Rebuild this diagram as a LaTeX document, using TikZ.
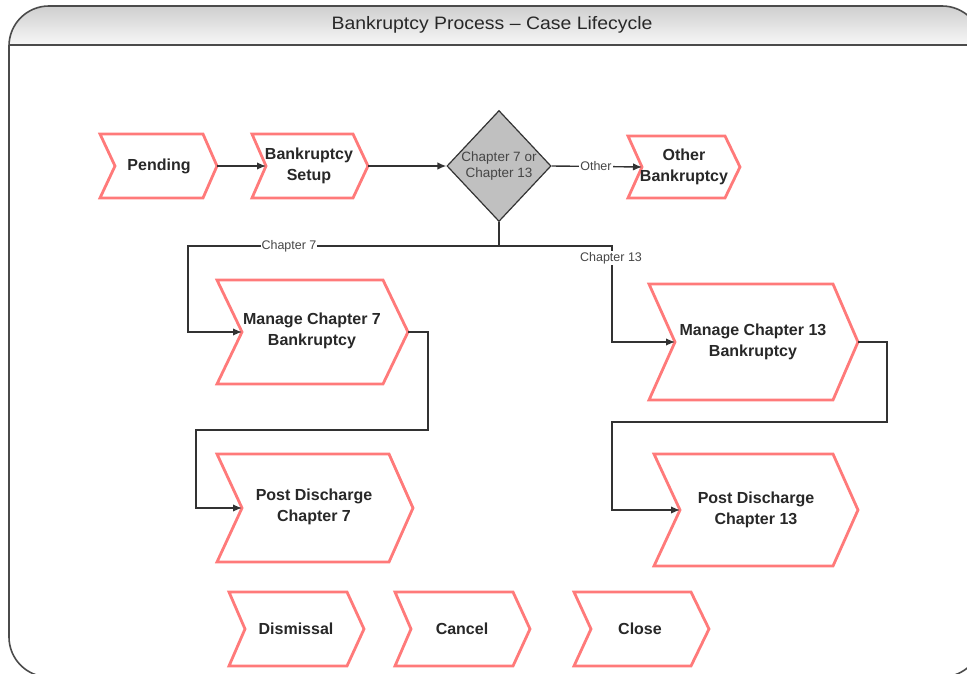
\documentclass[tikz,border=0pt]{standalone}
\usepackage{fontspec}
\setmainfont{Liberation Sans}
\usetikzlibrary{arrows.meta,shapes.geometric}
\definecolor{chevred}{RGB}{255,122,122}
\definecolor{linegray}{RGB}{50,50,50}
\definecolor{txtc}{RGB}{40,40,40}
\definecolor{smalltxt}{RGB}{70,70,70}
\definecolor{decgray}{RGB}{192,192,192}
\definecolor{framegray}{RGB}{75,75,75}
\newcommand\chevbox[7]{% name, xleft, xnotch, xright, xtip, ytop, ybottom
  \pgfmathsetmacro\ymid{(#6+#7)/2}
  \draw[chev] (#2,#6) -- (#4,#6) -- (#5,\ymid) -- (#4,#7) -- (#2,#7) -- (#3,\ymid) -- cycle;
  \coordinate (#1-in) at (#3,\ymid);
  \coordinate (#1-out) at (#5,\ymid);
}
\tikzset{
  chev/.style={draw=chevred, line width=2.8pt, fill=white, line join=miter},
  lbl/.style={text=txtc, font=\fontsize{16}{21}\selectfont\bfseries, align=center, inner sep=0pt},
  small/.style={text=smalltxt, font=\fontsize{12.5}{16}\selectfont, align=center, inner sep=1pt},
  smallw/.style={small, fill=white},
  conn/.style={draw=linegray, line width=1.4pt},
  arr/.style={conn, -{Latex[length=9pt,width=7.5pt]}},
  decision/.style={shape=diamond, draw=linegray, line width=1.2pt, fill=decgray,
    minimum width=102pt, minimum height=111pt, inner sep=0pt, text=smalltxt,
    font=\fontsize{13.5}{16.5}\selectfont, align=center},
}
\begin{document}
\begin{tikzpicture}[x=1pt,y=-1pt]
\useasboundingbox (0,0) rectangle (967,674);
% frame
\begin{scope}
  \clip[rounded corners=40pt] (9,6) rectangle (982,677);
  \shade[top color=gray!38, bottom color=gray!6] (9,6) rectangle (982,45);
\end{scope}
\draw[draw=framegray, line width=1.6pt] (9,45) -- (982,45);
\draw[draw=framegray, line width=1.6pt, rounded corners=40pt] (9,6) rectangle (982,677);
\node[text=txtc, font=\fontsize{18}{20}\selectfont, inner sep=0pt] (title) at (492,25) {\scalebox{1.08}[1]{Bankruptcy Process – Case Lifecycle}};

% chevrons
\chevbox{pending}{100}{115}{203}{217}{134}{198}
\chevbox{setup}{252}{266}{353}{368}{134}{198}
\chevbox{other}{628}{642}{725}{740}{136}{198}
\chevbox{mseven}{217}{242}{383}{408}{280}{384}
\chevbox{mthirteen}{649}{675}{833}{858}{284}{400}
\chevbox{pseven}{217}{242}{389}{413}{454}{562}
\chevbox{pthirteen}{654}{680}{833}{858}{454}{566}
\chevbox{dis}{229}{245}{347}{364}{592}{666}
\chevbox{can}{395}{411}{513}{530}{592}{666}
\chevbox{clo}{574}{591}{691}{709}{592}{666}

\node[lbl] (pendingT) at (159,166) {Pending};
\node[lbl] (setupT) at (309,166) {Bankruptcy\\Setup};
\node[lbl] (otherT) at (684,167) {Other\\Bankruptcy};
\node[lbl] (msevenT) at (312,331) {Manage Chapter 7\\Bankruptcy};
\node[lbl] (mthirteenT) at (753,342) {Manage Chapter 13\\Bankruptcy};
\node[lbl] (psevenT) at (314,507) {Post Discharge\\Chapter 7};
\node[lbl] (pthirteenT) at (756,510) {Post Discharge\\Chapter 13};
\node[lbl] (disT) at (296,629) {Dismissal};
\node[lbl] (canT) at (462,629) {Cancel};
\node[lbl] (cloT) at (640,629) {Close};

% decision
\node[decision] (dec) at (499,166) {Chapter 7 or\\Chapter 13};

% helper coordinates
\coordinate (cseven) at (188,246);
\coordinate (cthirteen) at (612,246);
\coordinate (rsevena) at (428,430);
\coordinate (rsevenb) at (196,430);
\coordinate (rthirteena) at (887,422);
\coordinate (rthirteenb) at (612,422);

% connectors
\draw[arr] (pending-out) -- (setup-in);
\draw[arr] (setup-out) -- (dec.west);
\draw[arr] (dec.east) -- node[smallw, pos=0.49] (otherL) {Other} (other-in);
\draw[arr] (dec.south) |- (cseven) |- (mseven-in);
\draw[arr] (dec.south) |- (cthirteen) |- (mthirteen-in);
\draw[arr] (mseven-out) -| (rsevena) -- (rsevenb) |- (pseven-in);
\draw[arr] (mthirteen-out) -| (rthirteena) -- (rthirteenb) |- (pthirteen-in);

\node[smallw] (lseven) at (289,246) {Chapter 7};
\node[smallw] (lthirteen) at (611,258) {Chapter 13};
\end{tikzpicture}
\end{document}
